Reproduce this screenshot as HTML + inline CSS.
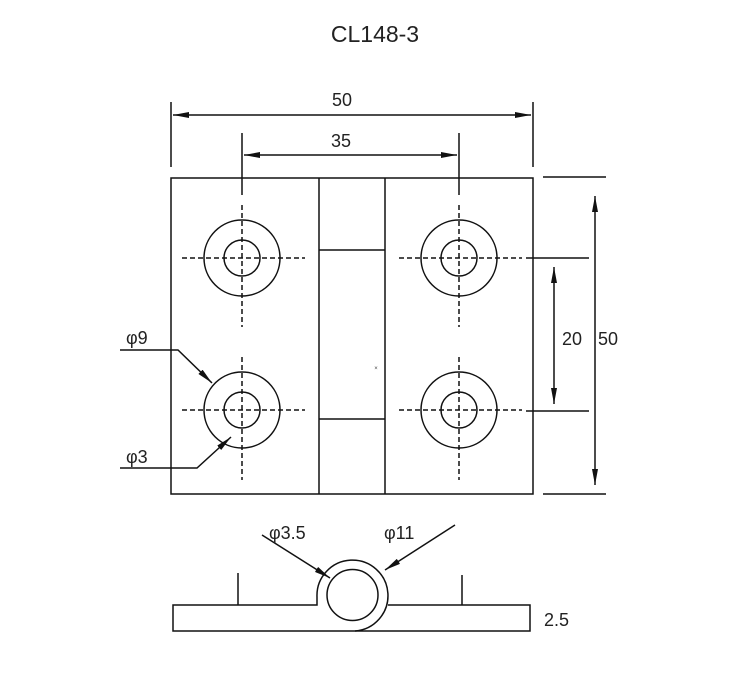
<!DOCTYPE html>
<html><head><style>body{margin:0;background:#fff}svg{display:block}</style></head>
<body>
<svg width="750" height="688" viewBox="0 0 750 688" xmlns="http://www.w3.org/2000/svg" font-family="Liberation Sans, sans-serif" fill="none" stroke="#111" stroke-width="1.5">
<defs>
<marker id="a" viewBox="0 0 16 6" refX="16" refY="3" markerWidth="16" markerHeight="6" markerUnits="userSpaceOnUse" orient="auto-start-reverse"><path d="M0,0 L16,3 L0,6 z" fill="#111" stroke="none"/></marker>
</defs>
<text x="375" y="42" font-size="23" fill="#222" stroke="none" text-anchor="middle">CL148-3</text>
<line x1="171" y1="102" x2="171" y2="167"/>
<line x1="533" y1="102" x2="533" y2="167"/>
<line x1="173" y1="115" x2="531" y2="115" marker-start="url(#a)" marker-end="url(#a)"/>
<text x="342" y="106" font-size="18" fill="#222" stroke="none" text-anchor="middle">50</text>
<line x1="242" y1="133" x2="242" y2="195"/>
<line x1="459" y1="133" x2="459" y2="195"/>
<line x1="244" y1="155" x2="457" y2="155" marker-start="url(#a)" marker-end="url(#a)"/>
<text x="341" y="147" font-size="18" fill="#222" stroke="none" text-anchor="middle">35</text>
<rect x="171" y="178" width="362" height="316"/>
<line x1="319" y1="178" x2="319" y2="494"/>
<line x1="385" y1="178" x2="385" y2="494"/>
<line x1="319" y1="250" x2="385" y2="250"/>
<line x1="319" y1="419" x2="385" y2="419"/>
<text x="376" y="370" font-size="6" fill="#444" stroke="none" text-anchor="middle">×</text>
<g>
<circle cx="242" cy="258" r="38"/><circle cx="242" cy="258" r="18"/>
<circle cx="459" cy="258" r="38"/><circle cx="459" cy="258" r="18"/>
<circle cx="242" cy="410" r="38"/><circle cx="242" cy="410" r="18"/>
<circle cx="459" cy="410" r="38"/><circle cx="459" cy="410" r="18"/>
</g>
<g stroke-dasharray="5,3">
<line x1="182" y1="258" x2="305" y2="258"/><line x1="242" y1="205" x2="242" y2="327"/>
<line x1="399" y1="258" x2="522" y2="258"/><line x1="459" y1="205" x2="459" y2="327"/>
<line x1="182" y1="410" x2="305" y2="410"/><line x1="242" y1="357" x2="242" y2="480"/>
<line x1="399" y1="410" x2="522" y2="410"/><line x1="459" y1="357" x2="459" y2="480"/>
</g>
<line x1="526" y1="258" x2="589" y2="258"/>
<line x1="526" y1="411" x2="589" y2="411"/>
<line x1="543" y1="177" x2="606" y2="177"/>
<line x1="543" y1="494" x2="606" y2="494"/>
<line x1="554" y1="267" x2="554" y2="404" marker-start="url(#a)" marker-end="url(#a)"/>
<line x1="595" y1="196" x2="595" y2="485" marker-start="url(#a)" marker-end="url(#a)"/>
<text x="562" y="345" font-size="18" fill="#222" stroke="none">20</text>
<text x="598" y="345" font-size="18" fill="#222" stroke="none">50</text>
<polyline points="120,350 178,350 212,383" marker-end="url(#a)"/>
<text x="126" y="344" font-size="18" fill="#222" stroke="none">φ9</text>
<polyline points="120,468 197,468 231,437" marker-end="url(#a)"/>
<text x="126" y="463" font-size="18" fill="#222" stroke="none">φ3</text>
<path d="M317,605 L173,605 L173,631 L355,631 A35.5,35.5 0 1 0 317,597 Z"/>
<path d="M388,605 L530,605 L530,631 L355,631"/>
<circle cx="352.5" cy="595" r="25.5"/>
<line x1="238" y1="573" x2="238" y2="605"/>
<line x1="462" y1="575" x2="462" y2="605"/>
<line x1="262" y1="535" x2="330" y2="578" marker-end="url(#a)"/>
<line x1="455" y1="525" x2="385" y2="570" marker-end="url(#a)"/>
<text x="269" y="539" font-size="18" fill="#222" stroke="none">φ3.5</text>
<text x="384" y="539" font-size="18" fill="#222" stroke="none">φ11</text>
<text x="544" y="626" font-size="18" fill="#222" stroke="none">2.5</text>
</svg>
</body></html>
